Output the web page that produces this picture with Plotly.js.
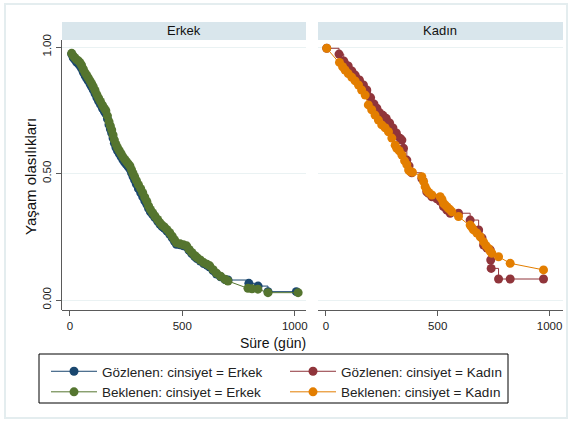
<!DOCTYPE html>
<html>
<head>
<meta charset="utf-8">
<script src="https://cdn.plot.ly/plotly-3.0.1.min.js"></script>
<style>html,body{margin:0;padding:0;background:#fff;}#chart{width:576px;height:424px;}</style>
</head>
<body>
<div id="chart"></div>
<script>
// ---- Data ----
const panels = ["Erkek", "Kadın"];
const xTicks = [0, 500, 1000];
const yTicks = [0, 0.5, 1];
const yTickText = ["0.00", "0.50", "1.00"];

// Erkek: observed (Kaplan-Meier, step) and expected (Cox) survival
const maleObsTime = [8,15,22,30,38,45,52,60,68,75,82,90,97,104,112,120,128,136,145,153,160,167,174,180,186,192,198,205,212,220,228,236,244,252,260,267,274,281,288,296,305,315,324,333,342,350,358,368,378,390,400,410,420,432,444,455,465,474,490,505,519,530,542,555,565,580,595,610,622,637,652,670,690,703,796,837,881,1007];
const maleObs = [.972,.958,.950,.940,.934,.926,.916,.900,.886,.876,.866,.854,.843,.831,.816,.800,.786,.773,.758,.746,.736,.716,.693,.676,.660,.640,.620,.603,.590,.578,.566,.554,.544,.535,.526,.518,.503,.488,.474,.458,.440,.424,.408,.392,.378,.362,.349,.338,.326,.312,.300,.290,.283,.272,.260,.246,.232,.220,.218,.214,.210,.196,.184,.172,.164,.154,.144,.137,.130,.116,.103,.092,.081,.079,.066,.055,.033,.033];
const maleExpTime = [8,15,22,30,38,45,52,60,68,75,82,90,97,104,112,120,128,136,145,153,160,167,174,180,186,192,198,205,212,220,228,236,244,252,260,267,274,281,288,296,305,315,324,333,342,350,358,368,378,390,400,410,420,432,444,455,465,474,490,505,519,530,542,555,565,580,595,610,622,637,652,670,690,703,792,810,836,881,1015];
const maleExp = [.975,.965,.958,.950,.945,.938,.928,.912,.898,.888,.878,.866,.855,.843,.828,.812,.798,.785,.770,.758,.748,.728,.705,.688,.672,.652,.632,.615,.602,.590,.578,.566,.556,.547,.538,.530,.515,.500,.487,.472,.456,.440,.424,.406,.390,.372,.358,.345,.332,.318,.306,.296,.289,.278,.266,.252,.238,.226,.222,.218,.214,.200,.188,.176,.168,.158,.148,.141,.135,.120,.106,.094,.082,.075,.046,.044,.043,.029,.029];

// Kadın
const femaleObsTime = [4,59,80,100,116,131,150,168,183,200,215,228,240,255,270,285,300,315,332,340,347,362,372,384,429,451,459,474,496,511,526,541,556,593,645,683,698,705,720,735,737,739,772,824,973];
const femaleObs = [.995,.972,.945,.925,.905,.889,.870,.850,.830,.800,.775,.758,.740,.730,.718,.700,.680,.660,.639,.632,.600,.553,.530,.503,.480,.428,.422,.408,.400,.390,.369,.355,.343,.343,.316,.277,.245,.217,.205,.198,.158,.125,.083,.083,.083];
const femaleExpTime = [4,61,75,86,100,116,131,146,160,176,190,205,220,235,250,265,280,295,310,317,328,340,352,362,370,377,387,429,437,444,451,460,474,511,519,526,533,541,548,556,563,593,645,652,660,675,690,705,716,727,735,742,772,824,973];
const femaleExp = [.995,.939,.922,.909,.895,.880,.866,.850,.830,.810,.771,.752,.731,.711,.692,.681,.665,.640,.612,.600,.590,.573,.550,.535,.514,.508,.505,.487,.468,.448,.435,.425,.415,.408,.398,.382,.376,.369,.362,.356,.349,.330,.296,.288,.277,.265,.250,.230,.215,.204,.192,.185,.171,.145,.119];

const seriesNames = ["Gözlenen: cinsiyet = Erkek", "Gözlenen: cinsiyet = Kadın", "Beklenen: cinsiyet = Erkek", "Beklenen: cinsiyet = Kadın"];

// ---- Styling ----
const W = 576, H = 424;
const px = v => v / W;          // pixel -> paper x
const py = v => 1 - v / H;      // pixel -> paper y
const FONT = "Liberation Sans, Arial, sans-serif";
const cNavy = "#1a476f", cMaroon = "#90353b", cGreen = "#55752f", cOrange = "#e37e00";
const axisCol = "#5a5a5a", gridCol = "#eaf2f3", bandCol = "#d9e6ec";

function tr(x, y, name, color, shape, xa, ya, lg) {
  return {
    type: "scatter", mode: "lines+markers", x: x, y: y, name: name,
    xaxis: xa, yaxis: ya, legend: lg,
    line: {color: color, width: 1, shape: shape},
    marker: {color: color, size: 9, symbol: "circle"},
    hoverinfo: "skip"
  };
}

const data = [
  tr(maleObsTime, maleObs, seriesNames[0], cNavy, "hv", "x", "y", "legend"),
  tr(femaleObsTime, femaleObs, seriesNames[1], cMaroon, "hv", "x2", "y2", "legend2"),
  tr(maleExpTime, maleExp, seriesNames[2], cGreen, "linear", "x", "y", "legend"),
  tr(femaleExpTime, femaleExp, seriesNames[3], cOrange, "linear", "x2", "y2", "legend2")
];

const yDom = [py(310), py(40)];
const yRange = [-0.0395, 1.0277];
const commonX = {
  tickmode: "array", tickvals: xTicks, ticktext: xTicks.map(String),
  ticks: "outside", ticklen: 5, tickwidth: 1, tickcolor: axisCol,
  showline: true, linecolor: axisCol, linewidth: 1,
  showgrid: false, zeroline: false, fixedrange: true,
  tickfont: {family: FONT, size: 11.5, color: "#222"}, anchor: "free"
};
const legBase = {
  orientation: "v", xanchor: "left", y: py(356), yanchor: "top",
  borderwidth: 0, bgcolor: "rgba(0,0,0,0)", traceorder: "normal",
  itemwidth: 46, tracegroupgap: 0,
  font: {family: FONT, size: 13.5, color: "#222"}
};

const layout = {
  width: W, height: H, autosize: false,
  margin: {l: 0, r: 0, t: 0, b: 0, pad: 0},
  paper_bgcolor: "#ffffff", plot_bgcolor: "#ffffff",
  font: {family: FONT, color: "#222"},
  showlegend: true,
  xaxis: Object.assign({}, commonX, {domain: [px(62), px(306)], range: [-35, 1050], position: yDom[0]}),
  xaxis2: Object.assign({}, commonX, {domain: [px(318), px(563)], range: [-35, 1060], position: yDom[0]}),
  yaxis: {
    domain: yDom, range: yRange,
    tickmode: "array", tickvals: yTicks, ticktext: yTickText, tickangle: -90,
    ticks: "outside", ticklen: 5, tickwidth: 1, tickcolor: axisCol,
    showline: true, linecolor: axisCol, linewidth: 1,
    showgrid: true, gridcolor: gridCol, gridwidth: 1, zeroline: false, fixedrange: true,
    tickfont: {family: FONT, size: 11.5, color: "#222"}, anchor: "x"
  },
  yaxis2: {
    domain: yDom, range: yRange, anchor: "x2",
    tickmode: "array", tickvals: yTicks, showticklabels: false, ticks: "",
    showline: false, showgrid: true, gridcolor: gridCol, gridwidth: 1, zeroline: false, fixedrange: true
  },
  legend: Object.assign({}, legBase, {x: px(46)}),
  legend2: Object.assign({}, legBase, {x: px(285)}),
  shapes: [
    {type: "rect", xref: "paper", yref: "paper", x0: px(5), x1: px(567), y0: py(418), y1: py(4),
     line: {color: "#e4edef", width: 2}, fillcolor: "rgba(0,0,0,0)", layer: "below"},
    {type: "rect", xref: "paper", yref: "paper", x0: px(62), x1: px(306), y0: py(40), y1: py(22),
     line: {width: 0}, fillcolor: bandCol, layer: "below"},
    {type: "rect", xref: "paper", yref: "paper", x0: px(318), x1: px(563), y0: py(40), y1: py(22),
     line: {width: 0}, fillcolor: bandCol, layer: "below"},
    {type: "rect", xref: "paper", yref: "paper", x0: px(39), x1: px(508), y0: py(403), y1: py(354),
     line: {color: "#000", width: 1}, fillcolor: "rgba(0,0,0,0)", layer: "above"}
  ],
  annotations: [
    {xref: "paper", yref: "paper", x: px(184), y: py(31), text: panels[0], showarrow: false,
     xanchor: "center", yanchor: "middle", font: {family: FONT, size: 13, color: "#111"}},
    {xref: "paper", yref: "paper", x: px(440), y: py(31), text: panels[1], showarrow: false,
     xanchor: "center", yanchor: "middle", font: {family: FONT, size: 13, color: "#111"}},
    {xref: "paper", yref: "paper", x: px(273), y: py(343), text: "Süre (gün)", showarrow: false,
     xanchor: "center", yanchor: "middle", font: {family: FONT, size: 14, color: "#111"}},
    {xref: "paper", yref: "paper", x: px(30), y: py(177), text: "Yaşam olasılıkları", showarrow: false,
     textangle: -90, xanchor: "center", yanchor: "middle", font: {family: FONT, size: 15, color: "#111"}}
  ]
};

Plotly.newPlot("chart", data, layout, {staticPlot: true, displayModeBar: false});
</script>
</body>
</html>
